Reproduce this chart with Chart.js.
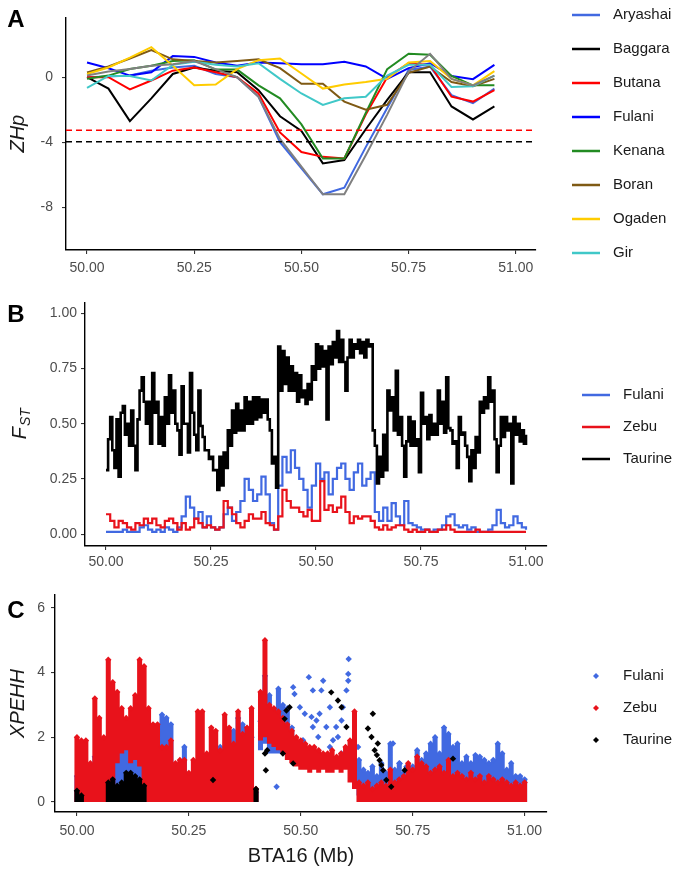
<!DOCTYPE html>
<html lang="en">
<head>
<meta charset="UTF-8">
<title>BTA16 selection signals</title>
<script src="https://cdn.jsdelivr.net/npm/chart.js"></script>
<style>
  body { margin: 0; background: #fff; }
  canvas { position: absolute; left: 0; }
  #chartA { top: 0; }
  #chartB { top: 290px; }
  #chartC { top: 580px; }
</style>
</head>
<body>
<canvas id="chartA" width="685" height="290"></canvas>
<canvas id="chartB" width="685" height="290"></canvas>
<canvas id="chartC" width="685" height="296"></canvas>
<script>
const FONT = '"Liberation Sans", Arial, sans-serif';

// ---------- Panel A: ZHp per breed ----------
const zhpPos = [50.00, 50.05, 50.10, 50.15, 50.20, 50.25, 50.30, 50.35, 50.40, 50.45,
                50.50, 50.55, 50.60, 50.65, 50.70, 50.75, 50.80, 50.85, 50.90, 50.95];
const zhpAryashai = [0.0, 0.05, 0.1, 0.4, 0.6, 0.7, 0.2, 0.0, -1.2, -4.0, -5.6, -7.2, -6.8, -4.3, -1.9, 0.45, 0.65, -1.1, -1.6, -0.7];
const zhpBaggara  = [0.0, -0.7, -2.7, -1.3, 0.2, 0.6, 0.4, 0.3, -0.8, -2.4, -3.3, -5.3, -5.1, -3.2, -1.4, 0.3, 0.3, -1.8, -2.6, -1.8];
const zhpButana   = [0.0, 0.0, -0.75, -0.2, 0.4, 0.6, 0.3, 0.0, -1.0, -3.4, -4.6, -4.9, -5.0, -2.3, 0.0, 0.86, 0.76, -1.2, -1.5, -0.8];
const zhpFulani   = [0.9, 0.55, 0.1, 0.3, 1.3, 1.25, 0.9, 0.7, 0.9, 0.86, 0.8, 0.8, 0.95, 0.66, -0.1, 0.56, 0.86, 0.08, -0.12, 0.76];
const zhpKenana   = [-0.1, 0.1, 0.5, 0.7, 1.0, 1.05, 0.47, 0.47, -0.5, -1.3, -2.9, -5.0, -5.0, -2.2, 0.5, 1.44, 1.38, 0.08, -0.5, -0.5];
const zhpBoran    = [0.3, 0.66, 1.15, 1.67, 1.1, 1.0, 0.9, 1.0, 1.1, 0.56, -0.4, -0.4, -1.5, -2.0, -1.7, 0.27, 0.66, -0.3, -0.55, -0.1];
const zhpOgaden   = [0.2, 0.6, 1.2, 1.85, 0.7, -0.5, -0.45, 0.5, 1.05, 1.15, 0.23, -0.7, -0.45, -0.3, -0.1, 0.9, 1.0, -0.1, -0.5, 0.37];
const zhpGir      = [-0.66, 0.08, 0.08, -0.2, 0.76, 0.95, 0.76, 0.66, 0.86, -0.1, -1.0, -1.7, -1.3, -1.2, 0.1, 0.76, 0.76, -0.6, -0.55, 0.1];
const zhpGrey     = [0.1, 0.35, 0.5, 0.7, 0.8, 1.0, 0.5, 0.0, -1.2, -3.8, -5.5, -7.2, -7.2, -4.8, -2.3, 0.35, 1.44, -0.1, -0.5, 0.1];
const zhpBreeds = ['Aryashai', 'Baggara', 'Butana', 'Fulani', 'Kenana', 'Boran', 'Ogaden', 'Gir'];
const zhpColors = ['#4169E1', '#000000', '#FF0000', '#0000FF', '#228B22', '#7F5A14', '#FFCC00', '#40C8C8'];
const zhpThresholdRed = -3.27;
const zhpThresholdBlack = -3.97;

// ---------- Panel B: FST ----------
const fstStart = 50.0;
const fstStepTaurine = 0.005;
const fstStep = 0.01;
const fstTaurine = [
  0.29,0.43, 0.53,0.38, 0.30,0.52, 0.26,0.55, 0.58,0.45, 0.50,0.40, 0.56,0.40, 0.29,0.52, 0.65,0.71, 0.60,0.50,
  0.60,0.41, 0.73,0.55, 0.60,0.41, 0.53,0.40, 0.62,0.50, 0.72,0.55, 0.65,0.50, 0.47,0.36, 0.67,0.50, 0.50,0.37,
  0.73,0.55, 0.45,0.38, 0.65,0.49, 0.44,0.38, 0.38,0.34, 0.35,0.29, 0.29,0.20, 0.35,0.22, 0.37,0.30, 0.47,0.40,
  0.56,0.46, 0.59,0.47, 0.56,0.47, 0.62,0.50, 0.60,0.50, 0.62,0.52, 0.62,0.53, 0.61,0.55, 0.61,0.52, 0.47,0.32,
  0.35,0.21, 0.85,0.65, 0.83,0.68, 0.80,0.65, 0.76,0.65, 0.73,0.60, 0.72,0.62, 0.65,0.59, 0.68,0.61, 0.76,0.70,
  0.86,0.75, 0.85,0.76, 0.83,0.52, 0.85,0.77, 0.87,0.80, 0.92,0.78, 0.88,0.78, 0.65,0.80, 0.88,0.80, 0.86,0.84,
  0.88,0.82, 0.87,0.80, 0.88,0.85, 0.86,0.47, 0.40,0.23, 0.35,0.26, 0.45,0.29, 0.65,0.56, 0.62,0.47, 0.74,0.45,
  0.53,0.40, 0.26,0.42, 0.53,0.40, 0.51,0.40, 0.43,0.28, 0.64,0.50, 0.53,0.43, 0.54,0.45, 0.50,0.45, 0.65,0.50,
  0.60,0.46, 0.71,0.48, 0.47,0.41, 0.42,0.30, 0.53,0.45, 0.46,0.40, 0.35,0.24, 0.38,0.30, 0.44,0.37, 0.60,0.55,
  0.62,0.57, 0.71,0.60, 0.65,0.43, 0.28,0.40, 0.53,0.44, 0.53,0.47, 0.50,0.23, 0.53,0.45, 0.50,0.42, 0.47,0.41,
  0.45
];
const fstFulani = [
  0.01,0.01,0.01,0.01,0.02,0.01,0.01,0.01,0.03,0.04,
  0.02,0.01,0.02,0.01,0.03,0.02,0.01,0.03,0.08,0.17,
  0.12,0.07,0.10,0.03,0.08,0.03,0.02,0.03,0.09,0.12,
  0.06,0.10,0.15,0.25,0.20,0.15,0.18,0.26,0.18,0.05,
  0.02,0.22,0.35,0.28,0.38,0.30,0.25,0.20,0.12,0.22,
  0.32,0.25,0.28,0.18,0.25,0.30,0.32,0.25,0.20,0.28,
  0.32,0.22,0.25,0.28,0.10,0.06,0.12,0.06,0.14,0.08,
  0.04,0.15,0.05,0.04,0.03,0.02,0.02,0.01,0.02,0.02,
  0.04,0.08,0.09,0.04,0.03,0.04,0.02,0.03,0.01,0.01,
  0.01,0.02,0.04,0.11,0.05,0.03,0.04,0.08,0.05,0.03,
  0.02
];
const fstZebu = [
  0.09,0.06,0.03,0.06,0.05,0.03,0.02,0.05,0.04,0.07,
  0.05,0.07,0.04,0.03,0.06,0.07,0.05,0.02,0.05,0.02,
  0.03,0.07,0.05,0.03,0.04,0.03,0.02,0.03,0.15,0.12,
  0.09,0.05,0.03,0.06,0.09,0.07,0.07,0.10,0.05,0.04,
  0.02,0.08,0.20,0.15,0.12,0.12,0.10,0.08,0.11,0.06,
  0.06,0.24,0.11,0.13,0.10,0.12,0.17,0.10,0.05,0.08,
  0.07,0.08,0.08,0.06,0.03,0.02,0.04,0.02,0.03,0.04,
  0.04,0.02,0.01,0.02,0.01,0.01,0.02,0.01,0.01,0.02,
  0.02,0.04,0.02,0.01,0.01,0.01,0.01,0.01,0.02,0.01,
  0.01,0.01,0.01,0.01,0.01,0.01,0.01,0.01,0.01,0.01,
  0.01
];

// ---------- Panel C: XPEHH ----------
// dense runs of SNPs are kept as a low/high range per 0.01 Mb window
const xpStart = 50.0;
const xpStep = 0.01;
const xpZebuTop = [
  2.0,1.9,1.9,1.2,3.2,2.6,2.0,4.4,3.7,3.4,
  2.9,2.6,2.9,3.3,4.4,4.2,2.9,2.4,2.4,1.7,
  1.7,1.9,1.2,1.3,1.3,0.9,1.3,2.8,2.8,1.5,
  2.3,2.2,1.6,2.7,2.3,1.8,2.8,2.1,2.3,2.9,
  0.4,3.4,5.0,3.0,2.9,2.8,2.6,2.4,2.2,2.0,
  1.9,1.8,1.7,1.7,1.6,1.5,1.5,1.6,1.4,1.5,
  1.7,1.9,2.8,0.6,0.5,0.6,0.4,0.5,0.6,0.5,
  1.0,0.6,0.7,0.8,1.2,1.0,1.4,1.2,1.1,0.9,
  1.0,1.1,0.9,1.3,0.8,0.9,0.8,0.7,0.9,0.7,
  0.8,0.6,0.8,0.7,0.6,0.7,0.6,0.5,0.6,0.5,
  0.6
];
const xpZebuBase = [
  0,0,0,0,0,0,0,0,0.3,1.2,
  1.5,1.6,1.2,1.3,1.1,0.5,0,0,0,0,
  0,0,0,0,0,0,0,0,0,0,
  0,0,0,0,0,0,0,0,0,0,
  0,1.9,2.0,1.8,1.7,1.6,1.5,1.3,1.2,1.1,
  1.0,1.0,0.9,1.0,0.9,1.0,0.9,0.9,1.0,0.9,
  1.0,0.6,0.4,0,0,0,0,0,0,0,
  0,0,0,0,0,0,0,0,0,0,
  0,0,0,0,0,0,0,0,0,0,
  0,0,0,0,0,0,0,0,0,0,
  0
];
const xpFulaniTop = [
  0.8,1.2,1.0,0.9,1.4,1.3,1.5,1.8,2.0,2.0,
  2.2,2.0,2.3,2.2,2.0,1.2,1.0,0.8,1.5,2.7,
  2.6,2.4,1.0,1.2,1.7,0.8,0.6,0.8,1.0,0.6,
  1.2,1.5,1.7,1.6,1.5,2.2,2.6,2.4,2.2,2.0,
  0.3,2.5,3.9,3.3,2.6,3.5,3.0,2.9,2.3,null,
  null,null,null,null,null,null,null,null,null,null,
  null,null,null,1.3,1.0,0.9,1.1,0.8,1.2,0.9,
  1.8,1.0,1.2,0.9,1.0,1.1,1.6,1.3,1.5,1.8,
  2.0,1.5,2.3,2.1,1.7,1.8,1.2,1.4,1.2,1.45,
  1.4,1.3,1.2,1.3,1.8,1.5,1.0,1.2,0.8,0.8,
  0.7
];
const xpFulaniBase = [
  0,0,0,0,0,0,0,0,0,0,
  0,0,0,0,0,0,0,0,0,0,
  0,0,0,0,0,0,0,0,0,0,
  0,0,0,0,0,0,0,0,0,0,
  0,1.6,1.8,1.5,1.5,1.5,1.6,1.5,1.4,null,
  null,null,null,null,null,null,null,null,null,null,
  null,null,null,0.2,0,0,0,0,0,0,
  0,0,0,0,0,0,0,0,0,0,
  0,0,0,0,0,0,0,0,0,0,
  0,0,0,0,0,0,0,0,0,0,
  0
];
// scattered Fulani points in the sweep region
const xpFulaniPtX = [50.446, 50.483, 50.486, 50.498, 50.505, 50.509, 50.518, 50.524, 50.527, 50.527, 50.535, 50.539, 50.542, 50.546,
                     50.550, 50.557, 50.565, 50.565, 50.572, 50.579, 50.583, 50.591, 50.591, 50.594, 50.602, 50.606, 50.606, 50.607,
                     50.613, 50.628, 50.706, 50.721, 50.736];
const xpFulaniPtY = [0.47, 3.55, 3.34, 2.93, 1.91, 2.73, 3.86, 2.63, 3.45, 2.32, 2.52, 2.01, 2.73, 3.45,
                     3.75, 2.32, 2.93, 1.70, 1.91, 2.32, 2.01, 2.52, 1.50, 2.93, 3.45, 3.75, 3.96, 4.42,
                     1.70, 1.70, 1.81, 1.19, 1.09];
const xpTaurineColX = [50.00, 50.01, 50.07, 50.08, 50.09, 50.10, 50.11, 50.12, 50.13, 50.14, 50.15, 50.40];
const xpTaurineColTop = [0.35, 0.2, 0.6, 0.7, 0.5, 0.6, 0.9, 0.9, 0.8, 0.7, 0.5, 0.4];
const xpTaurinePtX = [50.304, 50.420, 50.422, 50.425, 50.460, 50.464, 50.468, 50.475, 50.483, 50.568, 50.583, 50.591, 50.602,
                      50.650, 50.658, 50.661, 50.665, 50.670, 50.672, 50.676, 50.680, 50.684, 50.691, 50.702, 50.732, 50.840];
const xpTaurinePtY = [0.68, 1.50, 0.98, 1.60, 1.50, 2.57, 2.83, 2.93, 1.19, 3.39, 3.14, 2.93, 2.32,
                      2.27, 2.01, 2.73, 1.60, 1.45, 1.81, 1.29, 1.14, 0.98, 0.68, 0.47, 0.98, 1.34];
const popNames = ['Fulani', 'Zebu', 'Taurine'];
const popColors = ['#4169E1', '#E8121B', '#000000'];

// ---------- helpers ----------
function axis(min, max, tickVals, digits, fit, isX, pad) {
  return {
    type: 'linear', min: min, max: max,
    afterBuildTicks: ax => { ax.ticks = tickVals.map(v => ({ value: v })); },
    afterFit: ax => { if (isX) ax.height = fit; else ax.width = fit; },
    ticks: { callback: v => v.toFixed(digits), color: '#4D4D4D', font: { size: 14, family: FONT },
             padding: pad, maxRotation: 0, autoSkip: false },
    grid: { drawOnChartArea: false, drawTicks: true, tickLength: 4, color: '#333333', lineWidth: 1.1 },
    border: { display: true, color: '#000000', width: 1.4 }
  };
}

const panelText = {
  id: 'panelText',
  afterDraw(chart, args, o) {
    const ctx = chart.ctx, area = chart.chartArea;
    ctx.save();
    ctx.fillStyle = '#000';
    ctx.textBaseline = 'middle';
    ctx.textAlign = 'center';
    ctx.font = 'bold 24px ' + FONT;
    ctx.fillText(o.letter, o.letterX, o.letterY);
    if (o.xTitle) {
      ctx.font = '20px ' + FONT;
      ctx.fillStyle = '#1A1A1A';
      ctx.fillText(o.xTitle, (area.left + area.right) / 2, o.xTitleY);
    }
    // rotated y title, optional subscript
    ctx.translate(o.yTitleX, (area.top + area.bottom) / 2);
    ctx.rotate(-Math.PI / 2);
    ctx.fillStyle = '#1A1A1A';
    ctx.font = 'italic 20px ' + FONT;
    const w1 = ctx.measureText(o.yTitle).width;
    let w2 = 0;
    if (o.ySub) { ctx.font = 'italic 14px ' + FONT; w2 = ctx.measureText(o.ySub).width; }
    const x0 = -(w1 + w2) / 2;
    ctx.textAlign = 'left';
    ctx.font = 'italic 20px ' + FONT;
    ctx.fillText(o.yTitle, x0, 0);
    if (o.ySub) { ctx.font = 'italic 14px ' + FONT; ctx.fillText(o.ySub, x0 + w1 + 1, 6); }
    ctx.restore();
  }
};

const sideLegend = {
  id: 'sideLegend',
  afterDraw(chart, args, o) {
    const ctx = chart.ctx;
    ctx.save();
    ctx.font = '15px ' + FONT;
    ctx.textBaseline = 'middle';
    ctx.textAlign = 'left';
    o.labels.forEach((lab, i) => {
      const y = o.y0 + i * o.dy;
      ctx.strokeStyle = o.colors[i];
      ctx.fillStyle = o.colors[i];
      if (o.mode === 'line') {
        ctx.lineWidth = 2.5;
        ctx.beginPath(); ctx.moveTo(o.x0, y); ctx.lineTo(o.x0 + 28, y); ctx.stroke();
      } else {
        ctx.beginPath();
        ctx.moveTo(o.x0, y - 3); ctx.lineTo(o.x0 + 3, y); ctx.lineTo(o.x0, y + 3); ctx.lineTo(o.x0 - 3, y);
        ctx.closePath(); ctx.fill();
      }
      ctx.fillStyle = '#1A1A1A';
      ctx.fillText(lab, o.textX, y);
    });
    ctx.restore();
  }
};

const xy = (xs, ys) => ys.map((v, i) => ({ x: xs[i], y: v }));
const grid = (start, step, ys) => ys.map((v, i) => ({ x: +(start + i * step).toFixed(3), y: v }));
// each SNP run becomes a vertical stroke from base to top; a null breaks the line between runs
const runs = (xAt, tops, bases) => {
  const out = [];
  tops.forEach((t, i) => {
    if (t === null) return;
    out.push({ x: xAt(i), y: bases[i] }, { x: xAt(i), y: t }, { x: xAt(i), y: null });
  });
  return out;
};
// the highest SNP of each run, drawn as a diamond like the rest of the points
const runTops = (xAt, tops) => tops.map((t, i) => t === null ? null : { x: xAt(i), y: t }).filter(d => d !== null);

// ---------- Chart A ----------
const zhpSeries = [zhpAryashai, zhpBaggara, zhpButana, zhpFulani, zhpKenana, zhpBoran, zhpOgaden, zhpGir];
const aDatasets = zhpSeries.map((s, i) => ({
  label: zhpBreeds[i], data: xy(zhpPos, s), borderColor: zhpColors[i], borderWidth: 2,
  pointRadius: 0, order: 20 - i
}));
aDatasets.push({ label: 'other', data: xy(zhpPos, zhpGrey), borderColor: '#808080', borderWidth: 2, pointRadius: 0, order: 5 });
aDatasets.push({ label: 'thrRed', data: [{ x: 49.951, y: zhpThresholdRed }, { x: 51.047, y: zhpThresholdRed }],
  borderColor: '#FF0000', borderWidth: 1.5, borderDash: [6, 4], pointRadius: 0, order: 1 });
aDatasets.push({ label: 'thrBlack', data: [{ x: 49.951, y: zhpThresholdBlack }, { x: 51.047, y: zhpThresholdBlack }],
  borderColor: '#000000', borderWidth: 1.5, borderDash: [6, 4], pointRadius: 0, order: 1 });

new Chart(document.getElementById('chartA'), {
  type: 'line',
  data: { datasets: aDatasets },
  options: {
    responsive: false, animation: false,
    layout: { padding: { left: 0, top: 5, right: 149, bottom: 0 } },
    scales: {
      x: axis(49.951, 51.047, [50, 50.25, 50.5, 50.75, 51], 2, 40, true, 6),
      y: axis(-10.63, 3.68, [-8, -4, 0], 0, 66, false, 9)
    },
    plugins: {
      legend: { display: false }, tooltip: { enabled: false },
      panelText: { letter: 'A', letterX: 16, letterY: 20, yTitle: 'ZHp', yTitleX: 18 },
      sideLegend: { mode: 'line', labels: zhpBreeds, colors: zhpColors, x0: 572, textX: 613, y0: 15, dy: 34 }
    }
  },
  plugins: [panelText, sideLegend]
});

// ---------- Chart B ----------
new Chart(document.getElementById('chartB'), {
  type: 'line',
  data: {
    datasets: [
      { label: 'Fulani', data: grid(fstStart, fstStep, fstFulani), borderColor: popColors[0], borderWidth: 2.2, stepped: true, pointRadius: 0, order: 3 },
      { label: 'Zebu', data: grid(fstStart, fstStep, fstZebu), borderColor: popColors[1], borderWidth: 2.2, stepped: true, pointRadius: 0, order: 2 },
      { label: 'Taurine', data: grid(fstStart, fstStepTaurine, fstTaurine), borderColor: popColors[2], borderWidth: 2.6, stepped: true, pointRadius: 0, order: 1 }
    ]
  },
  options: {
    responsive: false, animation: false,
    layout: { padding: { left: 0, top: 12, right: 138, bottom: 0 } },
    scales: {
      x: axis(49.95, 51.05, [50, 50.25, 50.5, 50.75, 51], 2, 34, true, 4),
      y: axis(-0.054, 1.05, [0, 0.25, 0.5, 0.75, 1], 2, 85, false, 4)
    },
    plugins: {
      legend: { display: false }, tooltip: { enabled: false },
      panelText: { letter: 'B', letterX: 16, letterY: 25, yTitle: 'F', ySub: 'ST', yTitleX: 20 },
      sideLegend: { mode: 'line', labels: popNames, colors: popColors, x0: 582, textX: 623, y0: 105, dy: 32 }
    }
  },
  plugins: [panelText, sideLegend]
});

// ---------- Chart C ----------
const xpAt = i => +(xpStart + i * xpStep).toFixed(3);
const taurineAt = i => xpTaurineColX[i];
const runStyle = { type: 'line', borderWidth: 5, borderCapStyle: 'butt', pointRadius: 0, spanGaps: false, fill: false };
const dotStyle = { borderWidth: 0, pointStyle: 'rectRot', pointRadius: 3.2 };
new Chart(document.getElementById('chartC'), {
  type: 'scatter',
  data: {
    datasets: [
      Object.assign({ label: 'Fulani', data: runs(xpAt, xpFulaniTop, xpFulaniBase), borderColor: popColors[0], order: 8 }, runStyle),
      Object.assign({ label: 'Fulani tops', data: runTops(xpAt, xpFulaniTop), backgroundColor: popColors[0], order: 7 }, dotStyle),
      Object.assign({ label: 'Fulani pts', data: xy(xpFulaniPtX, xpFulaniPtY), backgroundColor: popColors[0], order: 6 }, dotStyle),
      Object.assign({ label: 'Zebu', data: runs(xpAt, xpZebuTop, xpZebuBase), borderColor: popColors[1], order: 5 }, runStyle),
      Object.assign({ label: 'Zebu tops', data: runTops(xpAt, xpZebuTop), backgroundColor: popColors[1], order: 4 }, dotStyle),
      Object.assign({ label: 'Taurine', data: runs(taurineAt, xpTaurineColTop, xpTaurineColTop.map(() => 0)),
        borderColor: popColors[2], order: 3 }, runStyle),
      Object.assign({ label: 'Taurine tops', data: runTops(taurineAt, xpTaurineColTop), backgroundColor: popColors[2], order: 2 }, dotStyle),
      Object.assign({ label: 'Taurine pts', data: xy(xpTaurinePtX, xpTaurinePtY), backgroundColor: popColors[2], order: 1 }, dotStyle)
    ]
  },
  options: {
    responsive: false, animation: false,
    layout: { padding: { left: 0, top: 15, right: 138, bottom: 0 } },
    scales: {
      x: axis(49.951, 51.05, [50, 50.25, 50.5, 50.75, 51], 2, 64, true, 7),
      y: axis(-0.31, 6.4, [0, 2, 4, 6], 0, 55, false, 6)
    },
    plugins: {
      legend: { display: false }, tooltip: { enabled: false },
      panelText: { letter: 'C', letterX: 16, letterY: 31, yTitle: 'XPEHH', yTitleX: 18, xTitle: 'BTA16 (Mb)', xTitleY: 276 },
      sideLegend: { mode: 'point', labels: popNames, colors: popColors, x0: 596, textX: 623, y0: 96, dy: 32 }
    }
  },
  plugins: [panelText, sideLegend]
});
</script>
</body>
</html>
